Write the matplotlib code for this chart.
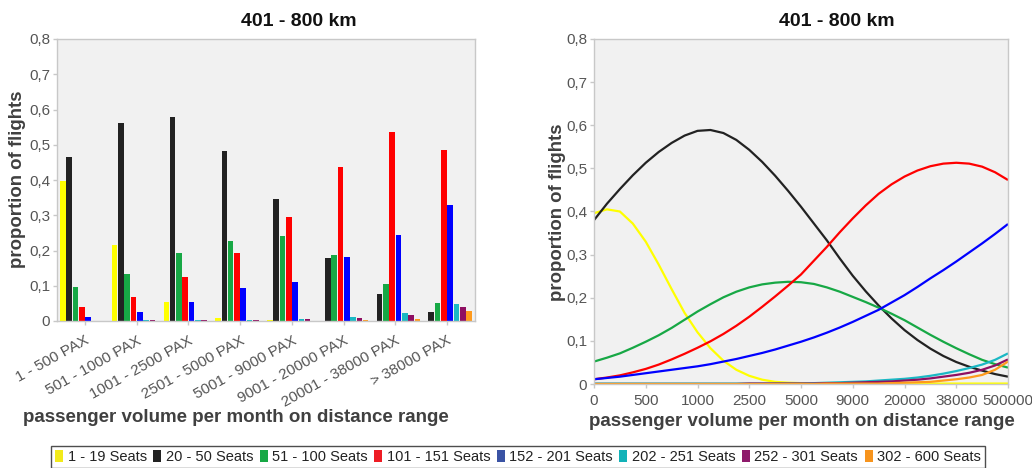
import numpy as np
import matplotlib
matplotlib.use("Agg")
import matplotlib.pyplot as plt
from matplotlib.patches import Patch

plt.rcParams['font.family'] = ['Liberation Sans', 'DejaVu Sans']

# ---- data -------------------------------------------------------------
seat_classes = ["1 - 19 Seats", "20 - 50 Seats", "51 - 100 Seats", "101 - 151 Seats",
                "152 - 201 Seats", "202 - 251 Seats", "252 - 301 Seats", "302 - 600 Seats"]
seat_colors = ["#ffff00", "#222222", "#17a845", "#ff0000",
               "#0000ff", "#1ab8c4", "#8e0f62", "#ff9a1c"]
legend_colors = ["#f2ea1a", "#222222", "#17a845", "#ee1c24",
                 "#3a53a4", "#12b2b8", "#8e1a6b", "#f7941d"]

pax_bins = ["1 - 500 PAX", "501 - 1000 PAX", "1001 - 2500 PAX", "2501 - 5000 PAX",
            "5001 - 9000 PAX", "9001 - 20000 PAX", "20001 - 38000 PAX", "> 38000 PAX"]

# share of flights per seat class in each passenger-volume bin
share_1_19    = [0.398, 0.217, 0.053, 0.009, 0.002, 0.001, 0.000, 0.000]
share_20_50   = [0.465, 0.563, 0.578, 0.481, 0.347, 0.178, 0.077, 0.026]
share_51_100  = [0.096, 0.133, 0.192, 0.226, 0.241, 0.187, 0.105, 0.051]
share_101_151 = [0.039, 0.067, 0.125, 0.192, 0.294, 0.438, 0.536, 0.486]
share_152_201 = [0.010, 0.026, 0.054, 0.094, 0.110, 0.182, 0.243, 0.330]
share_202_251 = [0.000, 0.002, 0.002, 0.003, 0.005, 0.010, 0.022, 0.048]
share_252_301 = [0.000, 0.002, 0.002, 0.002, 0.005, 0.008, 0.016, 0.040]
share_302_600 = [0.000, 0.000, 0.000, 0.001, 0.001, 0.003, 0.007, 0.028]
bar_series = [share_1_19, share_20_50, share_51_100, share_101_151,
              share_152_201, share_202_251, share_252_301, share_302_600]

# fitted curves, sampled every quarter step along the passenger-volume scale
volume_ticks = ["0", "500", "1000", "2500", "5000", "9000", "20000", "38000", "500000"]
curve_pos = [0.00, 0.25, 0.50, 0.75, 1.00, 1.25, 1.50, 1.75, 2.00, 2.25, 2.50,
             2.75, 3.00, 3.25, 3.50, 3.75, 4.00, 4.25, 4.50, 4.75, 5.00, 5.25,
             5.50, 5.75, 6.00, 6.25, 6.50, 6.75, 7.00, 7.25, 7.50, 7.75, 8.00]
fit_1_19    = [0.396, 0.405, 0.400, 0.372, 0.330, 0.277, 0.220, 0.165, 0.120, 0.083, 0.054,
               0.033, 0.019, 0.010, 0.005, 0.003, 0.002, 0.001, 0.001, 0.001, 0.001, 0.001,
               0.001, 0.001, 0.001, 0.001, 0.001, 0.001, 0.001, 0.001, 0.001, 0.001, 0.001]
fit_20_50   = [0.380, 0.418, 0.452, 0.484, 0.513, 0.538, 0.559, 0.576, 0.587, 0.589, 0.582,
               0.566, 0.543, 0.515, 0.483, 0.448, 0.411, 0.372, 0.333, 0.291, 0.251, 0.215,
               0.182, 0.152, 0.125, 0.102, 0.082, 0.065, 0.051, 0.040, 0.031, 0.023, 0.017]
fit_51_100  = [0.052, 0.061, 0.071, 0.084, 0.098, 0.113, 0.130, 0.149, 0.168, 0.185, 0.201,
               0.214, 0.224, 0.231, 0.235, 0.237, 0.236, 0.232, 0.224, 0.214, 0.202, 0.190,
               0.177, 0.163, 0.148, 0.131, 0.114, 0.098, 0.083, 0.069, 0.056, 0.046, 0.038]
fit_101_151 = [0.011, 0.015, 0.020, 0.027, 0.035, 0.045, 0.057, 0.070, 0.084, 0.099, 0.116,
               0.135, 0.156, 0.179, 0.203, 0.228, 0.254, 0.286, 0.318, 0.352, 0.384, 0.414,
               0.441, 0.463, 0.481, 0.495, 0.505, 0.511, 0.513, 0.511, 0.504, 0.491, 0.473]
fit_152_201 = [0.011, 0.014, 0.017, 0.021, 0.025, 0.029, 0.033, 0.037, 0.041, 0.046, 0.052,
               0.058, 0.065, 0.072, 0.080, 0.089, 0.098, 0.108, 0.119, 0.131, 0.144, 0.158,
               0.172, 0.189, 0.206, 0.225, 0.245, 0.264, 0.284, 0.305, 0.326, 0.348, 0.371]
fit_202_251 = [0.001, 0.001, 0.001, 0.001, 0.001, 0.001, 0.001, 0.001, 0.001, 0.001, 0.001,
               0.001, 0.001, 0.001, 0.001, 0.001, 0.001, 0.002, 0.003, 0.004, 0.005, 0.006,
               0.008, 0.010, 0.012, 0.015, 0.019, 0.024, 0.030, 0.037, 0.045, 0.056, 0.071]
fit_252_301 = [0.000, 0.000, 0.000, 0.000, 0.000, 0.000, 0.000, 0.000, 0.000, 0.000, 0.000,
               0.000, 0.001, 0.001, 0.001, 0.001, 0.001, 0.001, 0.002, 0.002, 0.003, 0.004,
               0.005, 0.006, 0.008, 0.010, 0.013, 0.017, 0.021, 0.026, 0.033, 0.043, 0.057]
fit_302_600 = [0.000, 0.000, 0.000, 0.000, 0.000, 0.000, 0.000, 0.000, 0.000, 0.000, 0.000,
               0.000, 0.000, 0.000, 0.000, 0.000, 0.000, 0.000, 0.001, 0.001, 0.001, 0.001,
               0.001, 0.002, 0.003, 0.004, 0.005, 0.008, 0.011, 0.015, 0.021, 0.033, 0.052]
curve_series = [fit_1_19, fit_20_50, fit_51_100, fit_101_151,
                fit_152_201, fit_202_251, fit_252_301, fit_302_600]

y_ticks = [0, 0.1, 0.2, 0.3, 0.4, 0.5, 0.6, 0.7, 0.8]
y_tick_labels = ["0", "0,1", "0,2", "0,3", "0,4", "0,5", "0,6", "0,7", "0,8"]

title = "401 - 800 km"
x_title = "passenger volume per month on distance range"
y_title = "proportion of flights"

# ---- styling ------------------------------------------------------------
PANEL_BG = "#f1f1f1"
FRAME = "#c8c8c8"
TICK_TXT = "#555555"
LABEL_TXT = "#404040"

W, H = 1032, 468
fig = plt.figure(figsize=(W / 100, H / 100), dpi=100)


def style_axes(ax):
    ax.set_facecolor(PANEL_BG)
    for s in ax.spines.values():
        s.set_color(FRAME)
        s.set_linewidth(1.0)
    ax.set_ylim(0, 0.8)
    ax.set_yticks(y_ticks)
    ax.set_yticklabels(y_tick_labels, color=TICK_TXT, fontsize=11)
    ax.tick_params(axis="both", colors=FRAME, labelcolor=TICK_TXT,
                   length=3, width=1, pad=2)


# left: grouped bars
ax1 = fig.add_axes([57 / W, 1 - 321 / H, 418 / W, 282 / H])
style_axes(ax1)
n = len(bar_series)
pitch = 0.122
width = 0.108
x = np.arange(len(pax_bins))
for k, (vals, col) in enumerate(zip(bar_series, seat_colors)):
    ax1.bar(x + (k - (n - 1) / 2) * pitch, vals, width=width, color=col,
            edgecolor="none", zorder=2)
ax1.set_xlim(-0.54, len(pax_bins) - 1 + 0.54)
ax1.set_xticks(x)
ax1.set_xticklabels(pax_bins, rotation=29, ha="right", rotation_mode="anchor",
                    fontsize=11, color=TICK_TXT)
ax1.tick_params(axis="x", pad=6)

# right: fitted curves
ax2 = fig.add_axes([594 / W, 1 - 384 / H, 414 / W, 345 / H])
style_axes(ax2)
for vals, col in zip(curve_series, seat_colors):
    ax2.plot(curve_pos, vals, color=col, lw=1.6, solid_joinstyle="round",
             solid_capstyle="butt", zorder=2)
ax2.set_xlim(0, len(volume_ticks) - 1)
ax2.set_xticks(range(len(volume_ticks)))
ax2.set_xticklabels(volume_ticks, fontsize=11, color=TICK_TXT)
ax2.tick_params(axis="x", pad=4)

# titles and axis titles
for xc in (299, 837):
    fig.text(xc / W, 1 - 21 / H, title, ha="center", va="center",
             fontsize=14, fontweight="bold", color="#111111")
fig.text(18 / W, 1 - 179 / H, y_title, rotation=90, ha="center", va="center",
         fontsize=13.4, fontweight="bold", color=LABEL_TXT)
fig.text(557 / W, 1 - 212 / H, y_title, rotation=90, ha="center", va="center",
         fontsize=13.4, fontweight="bold", color=LABEL_TXT)
fig.text(236 / W, 1 - 418 / H, x_title, ha="center", va="center",
         fontsize=13.5, fontweight="bold", color=LABEL_TXT)
fig.text(802 / W, 1 - 421 / H, x_title, ha="center", va="center",
         fontsize=13.5, fontweight="bold", color=LABEL_TXT)

# shared legend
handles = [Patch(facecolor=c, edgecolor="none") for c in legend_colors]
leg = fig.legend(handles, seat_classes, loc="center", bbox_to_anchor=(518 / W, 1 - 457 / H),
                 ncol=len(seat_classes), frameon=True, fancybox=False,
                 handlelength=0.55, handleheight=0.9, handletextpad=0.3,
                 columnspacing=0.45, borderpad=0.25, borderaxespad=0,
                 prop={"family": ["Liberation Sans Narrow", "Liberation Sans"], "size": 10.5})
leg.get_frame().set_edgecolor("#222222")
leg.get_frame().set_linewidth(1.0)
for t in leg.get_texts():
    t.set_color("#222222")

fig.savefig("out.png", dpi=100)
